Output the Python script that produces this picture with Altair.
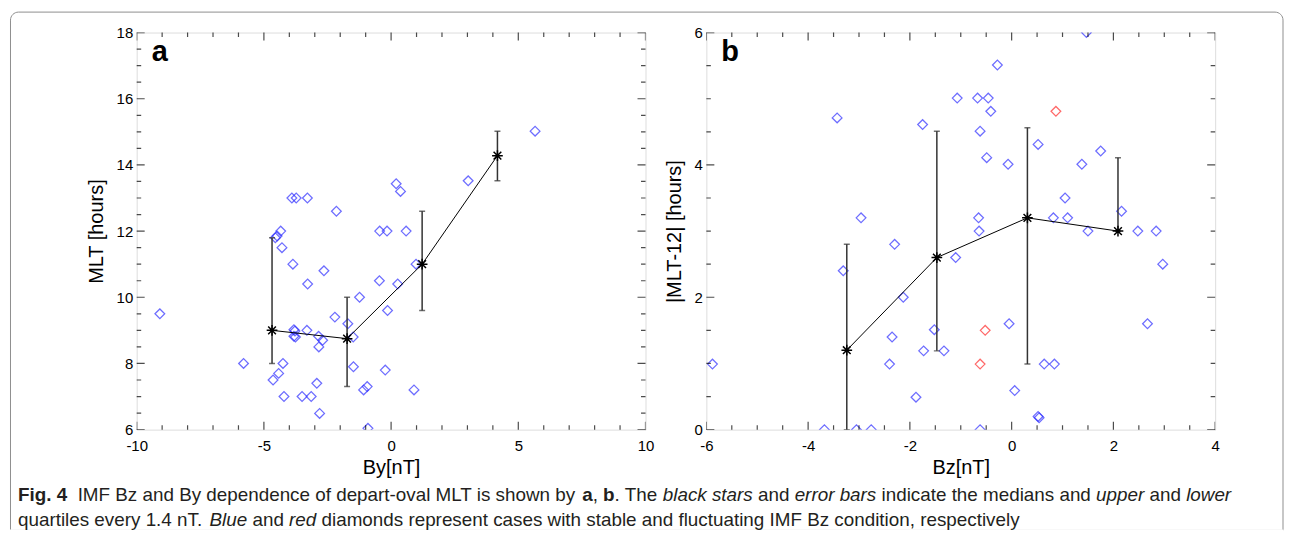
import altair as alt
import pandas as pd
import numpy as np

FONT = "Liberation Sans"

# ---------------- Panel a: departure MLT vs IMF By ----------------
a_by = [-9.09, -5.80, -4.64, -4.42, -4.25, -4.21, -4.55, -4.48, -4.34, -4.29,
        -3.90, -3.73, -3.29, -3.86, -3.28, -2.64, -2.15, -3.82, -3.78, -3.82,
        -3.76, -3.31, -2.85, -2.69, -2.84, -3.50, -3.14, -2.92, -2.81, -2.21,
        -1.70, -1.49, -1.24, -1.48, -1.08, -0.94, -0.91, -0.45, -0.16, 0.59,
        0.20, 0.37, -0.46, 0.26, -0.14, -0.23, 0.90, 0.98, 3.03, 5.66]
a_mlt = [9.50, 8.00, 7.50, 7.70, 8.00, 7.00, 11.80, 11.85, 12.00, 11.50,
         13.00, 13.00, 13.00, 11.00, 10.40, 10.80, 12.60, 9.02, 8.98, 8.82,
         8.80, 9.00, 8.82, 8.70, 8.50, 7.00, 7.00, 7.40, 6.49, 9.40,
         9.20, 8.80, 10.00, 7.90, 7.20, 7.30, 6.04, 12.00, 12.00, 12.00,
         13.43, 13.20, 10.50, 10.40, 9.60, 7.80, 7.20, 11.00, 13.52, 15.02]
a_med_x = [-4.68, -1.73, 1.22, 4.18]
a_med_y = [9.00, 8.75, 11.00, 14.28]
a_q_lo = [8.00, 7.30, 9.60, 13.52]
a_q_hi = [11.80, 10.00, 12.60, 15.02]
a_xticks = [-10, -5, 0, 5, 10]
a_yticks = [6, 8, 10, 12, 14, 16, 18]

# ---------------- Panel b: |MLT-12| vs IMF Bz ----------------
b_bz = [-5.88, -3.68, -3.43, -3.31, -3.05, -2.96, -2.76, -2.40, -2.35, -2.30,
        -2.13, -1.88, -1.75, -1.73, -1.52, -1.33, -1.10, -1.07, -0.67, -0.46,
        -0.41, -0.28, -0.62, -0.49, -0.65, -0.64, -0.62, -0.07, -0.05, 0.06,
        0.52, 0.52, 0.54, 0.64, 0.84, 0.82, 1.05, 1.10, 1.38, 1.47,
        1.50, 1.75, 2.16, 2.48, 2.84, 2.97, 2.67]
b_dev = [0.99, 0.00, 4.71, 2.40, 0.00, 3.20, 0.00, 0.99, 1.40, 2.80,
         2.00, 0.49, 4.61, 1.19, 1.51, 1.19, 2.60, 5.01, 5.01, 5.01,
         4.81, 5.51, 4.51, 4.11, 3.20, 3.00, 0.00, 4.01, 1.60, 0.59,
         4.31, 0.20, 0.18, 0.99, 0.99, 3.20, 3.50, 3.20, 4.01, 6.00,
         3.00, 4.21, 3.30, 3.00, 3.00, 2.50, 1.60]
b_bz_red = [0.87, -0.52, -0.62]
b_dev_red = [4.81, 1.50, 0.99]
b_med_x = [-3.24, -1.47, 0.31, 2.09]
b_med_y = [1.20, 2.60, 3.20, 3.00]
b_q_lo = [0.00, 1.19, 0.99, 3.00]
b_q_hi = [2.80, 4.51, 4.56, 4.11]
b_xticks = [-6, -4, -2, 0, 2, 4]
b_yticks = [0, 2, 4, 6]

BLUE = "#3030ff"
RED = "#ff2a2a"
STAR = "M-1,0L1,0M0,-1L0,1M-0.72,-0.72L0.72,0.72M-0.72,0.72L0.72,-0.72"
W, H = 510, 398
PL, PT = 135.0, 31.0   # page position of panel-a plot origin


def minor_ticks(lo, hi, step, majors):
    vals = np.round(np.arange(lo, hi + step / 2, step), 4)
    return [float(v) for v in vals if not any(abs(v - m) < 1e-9 for m in majors)]


def panel_layers(xs_pts, ys_pts, xs_red, ys_red, mx, my, qlo, qhi, xdom, ydom,
                 xmaj, xstep, ymaj, ystep, xtitle, ytitle, letter):
    pts = pd.DataFrame({"x": list(xs_pts) + list(xs_red),
                        "y": list(ys_pts) + list(ys_red),
                        "cond": ["stable"] * len(xs_pts) + ["fluctuating"] * len(xs_red)})
    med = pd.DataFrame({"x": mx, "y": my, "lo": qlo, "hi": qhi})
    xs = alt.Scale(domain=xdom, nice=False, zero=False)
    ys = alt.Scale(domain=ydom, nice=False, zero=False)
    common = dict(ticks=False, tickSize=0, domain=False, grid=False,
                  labelFont=FONT, labelFontSize=15, labelColor="black",
                  labelExpr="'' + datum.value", labelFlush=False, labelOverlap=False,
                  titleFont=FONT, titleFontSize=20, titleFontWeight="normal",
                  titleColor="black")
    xaxis = alt.Axis(values=xmaj, title=xtitle, labelPadding=9, titlePadding=4, **common)
    yaxis = alt.Axis(values=ymaj, title=ytitle, labelPadding=4, titlePadding=10, **common)
    # every layer carries the identical axis definition so that they merge into one
    xm = alt.X("x:Q", scale=xs, axis=xaxis, title=xtitle)
    ym = alt.Y("y:Q", scale=ys, axis=yaxis, title=ytitle)

    scatter = alt.Chart(pts).mark_point(shape="diamond", filled=False, size=95,
                                        strokeWidth=1.25, clip=True).encode(
        x=xm, y=ym,
        color=alt.Color("cond:N", scale=alt.Scale(domain=["stable", "fluctuating"],
                                                  range=[BLUE, RED]), legend=None),
    )
    bars = alt.Chart(med).mark_rule(color="#333333", strokeWidth=1.5, clip=True).encode(
        x=xm, y=alt.Y("lo:Q", scale=ys, axis=yaxis, title=ytitle), y2="hi:Q")
    caps = alt.Chart(med).transform_fold(["lo", "hi"], as_=["end", "v"]).mark_tick(
        orient="horizontal", size=6, thickness=1.5, color="#333333", clip=True).encode(
        x=xm, y=alt.Y("v:Q", scale=ys, axis=yaxis, title=ytitle))
    line = alt.Chart(med).mark_line(color="black", strokeWidth=1, clip=True).encode(x=xm, y=ym)
    stars = alt.Chart(med).mark_point(shape=STAR, size=115, filled=False, color="black",
                                      strokeWidth=1.5, clip=True, opacity=1).encode(x=xm, y=ym)

    layers = [scatter, bars, caps, line, stars]
    xmin = minor_ticks(xdom[0], xdom[1], xstep, xmaj)
    ymin = minor_ticks(ydom[0], ydom[1], ystep, ymaj)
    for vals, ln in ((xmaj, 16), (xmin, 9)):
        tdf = pd.DataFrame({"x": vals})
        for ypos in (H, 0):
            layers.append(alt.Chart(tdf).mark_tick(orient="vertical", size=ln, thickness=1.2,
                                                   color="black", clip=True).encode(
                x=xm, y=alt.value(ypos)))
    for vals, ln in ((ymaj, 16), (ymin, 9)):
        tdf = pd.DataFrame({"y": vals})
        for xpos in (0, W):
            layers.append(alt.Chart(tdf).mark_tick(orient="horizontal", size=ln, thickness=1.2,
                                                   color="black", clip=True).encode(
                y=ym, x=alt.value(xpos)))
    lab = alt.Chart(pd.DataFrame({"t": [letter]})).mark_text(
        align="left", baseline="alphabetic", font=FONT, fontSize=29, fontWeight="bold",
        color="black").encode(text="t:N", x=alt.value(15), y=alt.value(29))
    layers.append(lab)
    return layers


# ---------------- Caption (laid out with Helvetica/Liberation metrics) ----------------
HELV = {' ': 278, ',': 278, '-': 333, '.': 278, '0': 556, '1': 556, '2': 556, '3': 556,
        '4': 556, '5': 556, '6': 556, '7': 556, '8': 556, '9': 556,
        'A': 667, 'B': 667, 'C': 722, 'D': 722, 'E': 667, 'F': 611, 'G': 778, 'H': 722,
        'I': 278, 'J': 500, 'K': 667, 'L': 556, 'M': 833, 'N': 722, 'O': 778, 'P': 667,
        'Q': 778, 'R': 722, 'S': 667, 'T': 611, 'U': 722, 'V': 667, 'W': 944, 'X': 667,
        'Y': 667, 'Z': 611, 'a': 556, 'b': 556, 'c': 500, 'd': 556, 'e': 556, 'f': 278,
        'g': 556, 'h': 556, 'i': 222, 'j': 222, 'k': 500, 'l': 222, 'm': 833, 'n': 556,
        'o': 556, 'p': 556, 'q': 556, 'r': 333, 's': 500, 't': 278, 'u': 556, 'v': 500,
        'w': 722, 'x': 500, 'y': 500, 'z': 500}
HELV_B = {'F': 611, 'i': 278, 'g': 611, '.': 278, ' ': 278, '4': 556, 'a': 556, 'b': 611}


def tw(s, style):
    tbl = HELV_B if style == "b" else HELV
    return sum(tbl.get(c, HELV.get(c, 556)) for c in s) / 1000.0


cap_line1 = [("Fig. 4", "b"), ("  IMF Bz and By dependence of depart-oval MLT is shown by ", "r"),
             ("a", "b"), (", ", "r"), ("b", "b"), (". The ", "r"), ("black stars", "i"),
             (" and ", "r"), ("error bars", "i"), (" indicate the medians and ", "r"),
             ("upper", "i"), (" and ", "r"), ("lower", "i")]
cap_line2 = [("quartiles every 1.4 nT. ", "r"), ("Blue", "i"), (" and ", "r"), ("red", "i"),
             (" diamonds represent cases with stable and fluctuating IMF Bz condition, respectively", "r")]

line1_em = sum(tw(s, st) for s, st in cap_line1)
FS = (1232.0 - 16.0) / line1_em
rows = []
for segs, base in ((cap_line1, 501.0), (cap_line2, 526.0)):
    cur = 16.0
    for s, st in segs:
        lead = len(s) - len(s.lstrip(" "))
        if s.strip():
            rows.append({"text": s.strip(), "px": cur + FS * tw(s[:lead], st) - PL,
                         "py": base - PT, "style": st})
        cur += FS * tw(s, st)
cap_df = pd.DataFrame(rows)

cap_layers = []
frame = alt.Chart(pd.DataFrame({"k": [0]})).mark_rect(
    fillOpacity=0, stroke="#8f8f8f", strokeWidth=1,
    cornerRadiusTopLeft=8, cornerRadiusTopRight=8).encode(
    x=alt.value(8.5 - PL), x2=alt.value(1284 - PL),
    y=alt.value(10.5 - PT), y2=alt.value(530 - PT))
cover = alt.Chart(pd.DataFrame({"k": [0]})).mark_rule(color="white", strokeWidth=2).encode(
    x=alt.value(8 - PL), x2=alt.value(1284.5 - PL), y=alt.value(530 - PT))
cap_layers += [frame, cover]
for st, weight, fstyle in (("r", "normal", "normal"), ("b", "bold", "normal"), ("i", "normal", "italic")):
    cap_layers.append(alt.Chart(cap_df[cap_df["style"] == st]).mark_text(
        align="left", baseline="alphabetic", font=FONT, fontSize=FS, fontWeight=weight,
        fontStyle=fstyle, color="#231f20").encode(
        text="text:N",
        x=alt.X("px:Q", scale=None),
        y=alt.Y("py:Q", scale=None)))

la = panel_layers(a_by, a_mlt, [], [], a_med_x, a_med_y, a_q_lo, a_q_hi, [-10, 10], [6, 18],
                  a_xticks, 1.0, a_yticks, 0.5, "By[nT]", "MLT [hours]", "a")
lb = panel_layers(b_bz, b_dev, b_bz_red, b_dev_red, b_med_x, b_med_y, b_q_lo, b_q_hi, [-6, 4], [0, 6],
                  b_xticks, 0.5, b_yticks, 0.5, "Bz[nT]", "|MLT-12| [hours]", "b")

pa = alt.layer(*(la + cap_layers)).properties(width=W, height=H)
pb = alt.layer(*lb).properties(width=W, height=H)

chart = alt.hconcat(pa, pb, spacing=61, bounds="flush").properties(
    padding={"left": 0, "top": 2, "right": 0, "bottom": 0}
).configure_view(stroke="#111111", strokeWidth=1.3).configure(font=FONT)

chart.save("out.html", embed_options={"renderer": "svg", "actions": False})
